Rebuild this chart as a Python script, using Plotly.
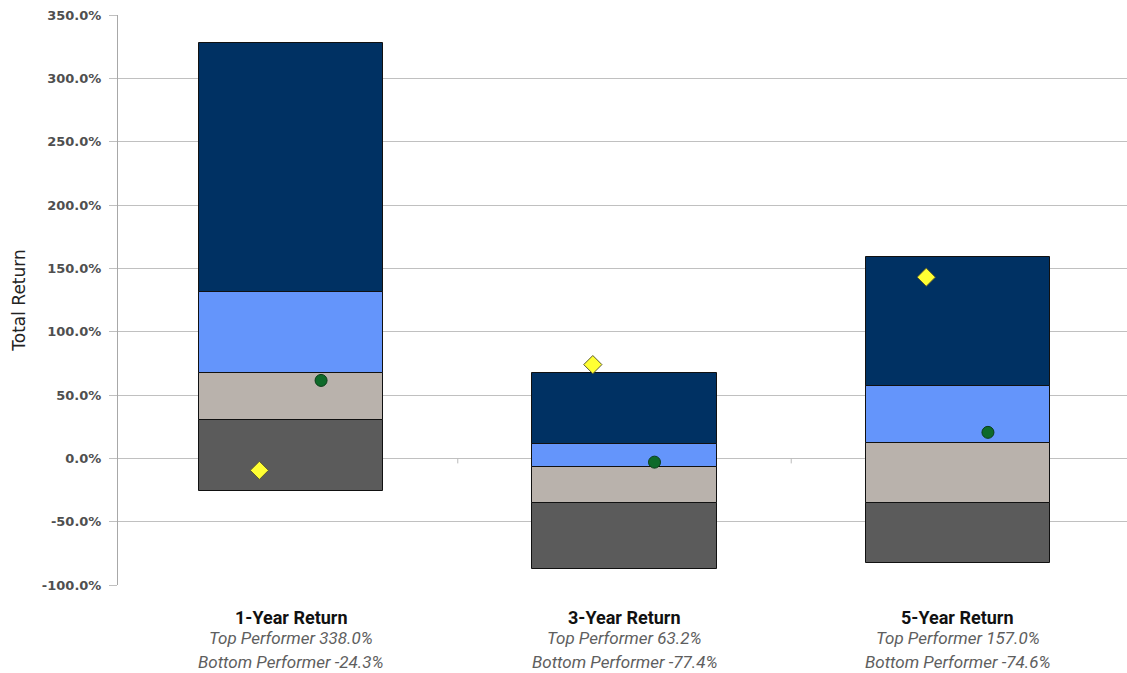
import plotly.graph_objects as go

categories = ["1-Year Return", "3-Year Return", "5-Year Return"]
# quartile boundaries (%), from bottom to top of each floating bar
q_min = [-26.0, -87.0, -83.0]
q_25 = [30.0, -35.0, -35.0]
q_50 = [67.0, -7.0, 12.0]
q_75 = [131.0, 11.0, 57.0]
q_max = [328.0, 67.0, 159.0]
# markers
diamond_vals = [-9.5, 74.0, 143.0]
circle_vals = [61.5, -3.0, 20.5]
top_performer = ["338.0%", "63.2%", "157.0%"]
bottom_performer = ["-24.3%", "-77.4%", "-74.6%"]
y_ticks = [-100, -50, 0, 50, 100, 150, 200, 250, 300, 350]

seg_colors = ["#5b5b5b", "#b9b2ac", "#6495fb", "#003163"]
bounds = [q_min, q_25, q_50, q_75, q_max]

xs = list(range(len(categories)))
fig = go.Figure()
for k in range(4):
    lo = bounds[k]
    hi = bounds[k + 1]
    fig.add_trace(go.Bar(
        x=xs, y=[h - l for h, l in zip(hi, lo)], base=lo, width=0.552,
        marker=dict(color=seg_colors[k], line=dict(color="#111111", width=1)),
        showlegend=False,
    ))

fig.add_trace(go.Scatter(
    x=[i - 0.095 for i in xs], y=diamond_vals, mode="markers",
    marker=dict(symbol="diamond", size=14, color="#ffff33",
                line=dict(color="#5a5a30", width=1)),
    showlegend=False,
))
fig.add_trace(go.Scatter(
    x=[i + 0.09 for i in xs], y=circle_vals, mode="markers",
    marker=dict(symbol="circle", size=12, color="#0e6a2a",
                line=dict(color="#0a3d18", width=1)),
    showlegend=False,
))

# small category separator ticks on the zero line
shapes = []
for b in [0.5, 1.5]:
    shapes.append(dict(type="line", xref="x", yref="y", x0=b, x1=b, y0=-4, y1=0,
                       line=dict(color="#bbbbbb", width=1)))

label_font = "Roboto, Liberation Sans Narrow, sans-serif"
annotations = []
for i, c in enumerate(categories):
    annotations.append(dict(
        x=i, y=0, xref="x", yref="paper", yanchor="middle", yshift=-32,
        text=f"<b>{c}</b>", showarrow=False,
        font=dict(family=label_font, size=18, color="#111111")))
    annotations.append(dict(
        x=i, y=0, xref="x", yref="paper", yanchor="middle", yshift=-53,
        text=f"<i>Top Performer {top_performer[i]}</i>", showarrow=False,
        font=dict(family=label_font, size=17, color="#5e5e5e")))
    annotations.append(dict(
        x=i, y=0, xref="x", yref="paper", yanchor="middle", yshift=-77,
        text=f"<i>Bottom Performer {bottom_performer[i]}</i>", showarrow=False,
        font=dict(family=label_font, size=17, color="#5e5e5e")))

fig.update_layout(
    width=1127, height=673,
    margin=dict(l=118, r=0, t=15, b=88),
    plot_bgcolor="white", paper_bgcolor="white",
    barmode="overlay", bargap=0,
    shapes=shapes, annotations=annotations,
    xaxis=dict(range=[-0.519, 2.507], showgrid=False, zeroline=False,
               showticklabels=False, showline=False, ticks=""),
    yaxis=dict(range=[-100, 350], tickvals=y_ticks,
               ticktext=[f"<b>{v:.1f}%</b>" for v in y_ticks],
               tickfont=dict(family="DejaVu Sans, Verdana, sans-serif", size=13, color="#4f4f4f"),
               ticklabelstandoff=5,
               showgrid=True, gridcolor="#c0c0c0", gridwidth=1,
               zeroline=True, zerolinecolor="#c0c0c0", zerolinewidth=1,
               showline=True, linecolor="#a8a8a8", linewidth=1,
               ticks="outside", ticklen=8, tickcolor="#c0c0c0",
               title=dict(text="Total Return", standoff=11,
                          font=dict(family="DejaVu Sans, Verdana, sans-serif", size=17, color="#222222"))),
)

fig.write_html("out.html")
